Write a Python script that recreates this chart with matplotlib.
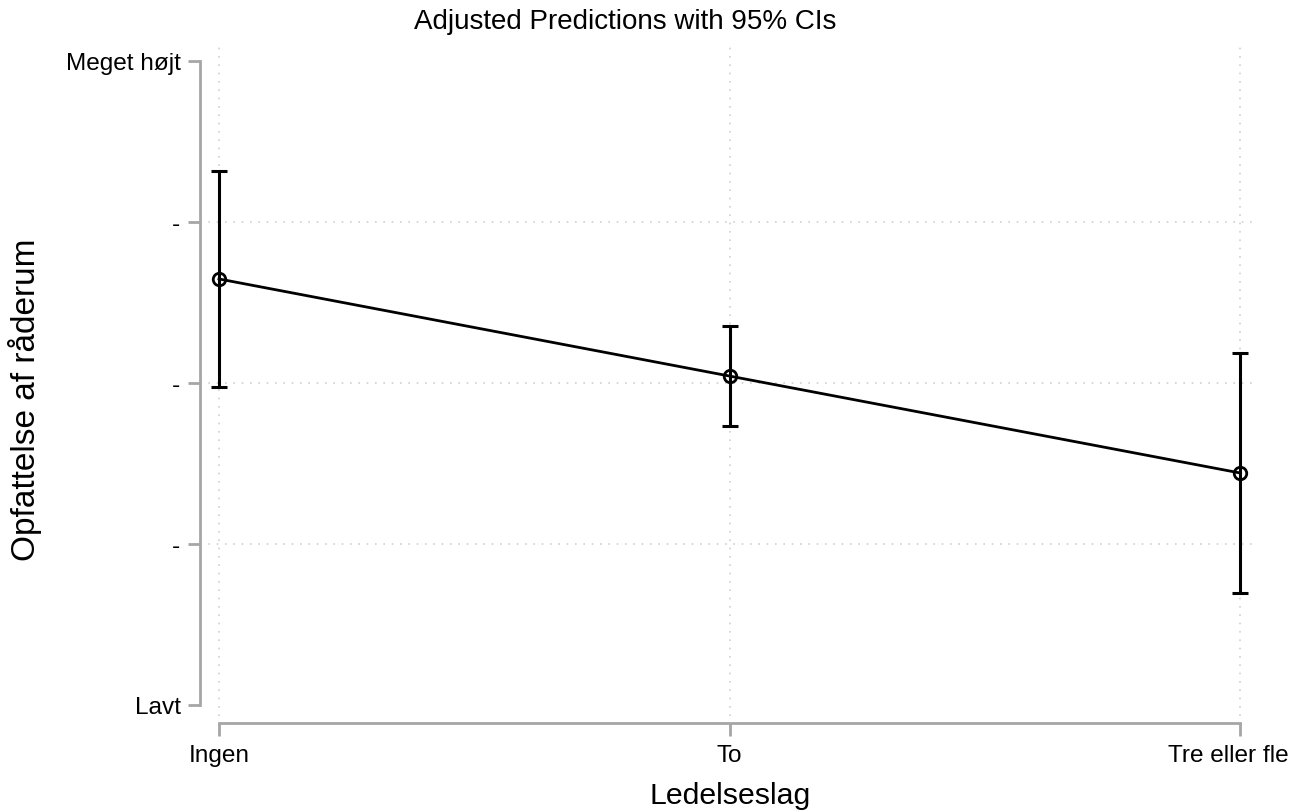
import matplotlib
matplotlib.use("Agg")
import matplotlib.pyplot as plt
import matplotlib.transforms as mtransforms

categories = ["Ingen", "To", "Tre eller fle"]
x_pos = [1, 2, 3]
predictions = [3.646, 3.043, 2.441]
ci_low = [2.975, 2.733, 1.696]
ci_high = [4.317, 3.354, 3.186]
y_ticks = [1, 2, 3, 4, 5]
y_tick_labels = ["Lavt", "-", "-", "-", "Meget højt"]

plt.rcParams['font.family'] = ['Liberation Sans', 'DejaVu Sans']

fig = plt.figure(figsize=(13.03, 8.12), dpi=100)
ax = fig.add_axes([200/1303, 88/812, 1062/1303, 682/812])

XMIN, XMAX = 0.9628, 3.043
YMIN, YMAX = 0.888, 5.124

grid_col = '#cfcfcf'
ax.hlines(y_ticks[1:-1], XMIN, 3.03, colors=grid_col, lw=1.2, linestyles=[(0, (1, 4))], zorder=0)
ax.vlines(x_pos, 0.93, YMAX, colors=grid_col, lw=1.2, linestyles=[(0, (1, 4))], zorder=0)

yerr = [[p - l for p, l in zip(predictions, ci_low)],
        [h - p for p, h in zip(predictions, ci_high)]]
ax.errorbar(x_pos, predictions, yerr=yerr, fmt='none', ecolor='black',
            elinewidth=2.2, capsize=6, capthick=2.2, zorder=2)
ax.plot(x_pos, predictions, color='black', lw=2.0, marker='o', markersize=9,
        markerfacecolor='none', markeredgecolor='black', markeredgewidth=2.0, zorder=3)

ax.set_xlim(XMIN, XMAX)
ax.set_ylim(YMIN, YMAX)

spine_col = '#a6a6a6'
for s in ['top', 'right']:
    ax.spines[s].set_visible(False)
ax.spines['left'].set_bounds(1, 5)
ax.spines['bottom'].set_bounds(1, 3)
for s in ['left', 'bottom']:
    ax.spines[s].set_color(spine_col)
    ax.spines[s].set_linewidth(2)

ax.set_xticks(x_pos)
ax.set_xticklabels(categories)
ax.set_yticks(y_ticks)
ax.set_yticklabels(y_tick_labels)
ax.tick_params(axis='both', colors=spine_col, width=2, length=9, labelcolor='black',
               labelsize=17.6)
ax.tick_params(axis='x', pad=6)
ax.tick_params(axis='y', pad=5)

# last x tick label is shifted left to stay within the figure
last = ax.get_xticklabels()[-1]
last.set_transform(last.get_transform() +
                   mtransforms.ScaledTranslation(-12/100, 0, fig.dpi_scale_trans))

fig.text(625/1303, 1 - 22/812, "Adjusted Predictions with 95% CIs", ha='center', va='center',
         fontsize=20)
fig.text(730/1303, 1 - 796/812, "Ledelseslag", ha='center', va='center', fontsize=21.8)
fig.text(25/1303, 1 - 400/812, "Opfattelse af råderum", ha='center', va='center',
         rotation=90, fontsize=24)

fig.savefig("out.png", dpi=100)
